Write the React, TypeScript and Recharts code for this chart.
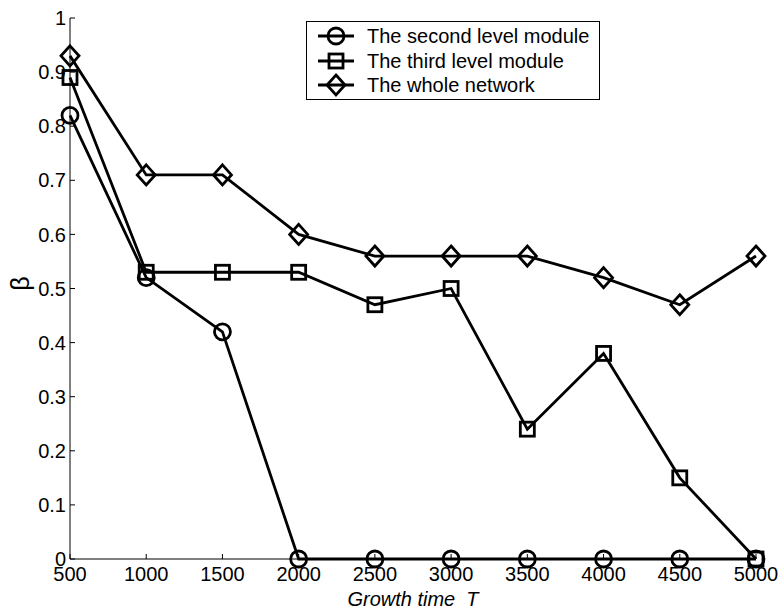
import React from 'react';
import {
  LineChart,
  Line,
  XAxis,
  YAxis,
  Label,
} from 'recharts';

const growthTimes = [500, 1000, 1500, 2000, 2500, 3000, 3500, 4000, 4500, 5000];
const secondLevel = [0.82, 0.52, 0.42, 0, 0, 0, 0, 0, 0, 0];
const thirdLevel = [0.89, 0.53, 0.53, 0.53, 0.47, 0.5, 0.24, 0.38, 0.15, 0];
const wholeNetwork = [0.93, 0.71, 0.71, 0.6, 0.56, 0.56, 0.56, 0.52, 0.47, 0.56];
const yTicks = [0, 0.1, 0.2, 0.3, 0.4, 0.5, 0.6, 0.7, 0.8, 0.9, 1];

const data = growthTimes.map((t, i) => ({
  t,
  second: secondLevel[i],
  third: thirdLevel[i],
  whole: wholeNetwork[i],
}));

const series = [
  { key: 'second', name: 'The second level module', marker: 'circle' },
  { key: 'third', name: 'The third level module', marker: 'square' },
  { key: 'whole', name: 'The whole network', marker: 'diamond' },
];

const FONT = '"Liberation Sans", Arial, sans-serif';
const SW = 2.8;

function Marker({ kind, cx, cy }: { kind: string; cx: number; cy: number }) {
  if (cx == null || cy == null) return null;
  if (kind === 'circle') {
    return <circle cx={cx} cy={cy} r={8} fill="none" stroke="#000" strokeWidth={SW} />;
  }
  if (kind === 'square') {
    return <rect x={cx - 7} y={cy - 7} width={14} height={14} fill="none" stroke="#000" strokeWidth={SW} />;
  }
  return (
    <polygon
      points={`${cx},${cy - 10} ${cx + 9},${cy} ${cx},${cy + 10} ${cx - 9},${cy}`}
      fill="none"
      stroke="#000"
      strokeWidth={SW}
    />
  );
}

function LegendBox() {
  return (
    <div
      style={{
        position: 'absolute',
        left: 306,
        top: 21,
        width: 292,
        border: '1px solid #000',
        background: '#fff',
        padding: '2px 0 1px 0',
        fontFamily: FONT,
        fontSize: 20,
      }}
    >
      {series.map((s) => (
        <div key={s.key} style={{ display: 'flex', alignItems: 'center', height: 24.5 }}>
          <svg width={58} height={24} style={{ overflow: 'visible', flex: 'none' }}>
            <line x1={11} x2={47} y1={12} y2={12} stroke="#000" strokeWidth={SW} />
            <Marker kind={s.marker} cx={29} cy={12} />
          </svg>
          <span style={{ marginLeft: 2, lineHeight: '24px', whiteSpace: 'nowrap' }}>{s.name}</span>
        </div>
      ))}
    </div>
  );
}

export default function App() {
  return (
    <div style={{ position: 'absolute', left: 0, top: 0, width: 781, height: 612, background: '#fff' }}>
      <LineChart
        width={781}
        height={612}
        data={data}
        margin={{ top: 18, right: 25, left: 30, bottom: 23 }}
      >
        <XAxis
          dataKey="t"
          type="number"
          domain={[500, 5000]}
          ticks={growthTimes}
          interval={0}
          height={30}
          stroke="#000"
          tickSize={-5}
          tickMargin={13}
          tick={{ fill: '#000', fontSize: 20, fontFamily: FONT }}
        >
          <Label
            value={'Growth time\u00A0\u00A0T'}
            position="insideBottom"
            offset={-17}
            style={{ fontFamily: FONT, fontSize: 20, fontStyle: 'italic', fill: '#000' }}
          />
        </XAxis>
        <XAxis
          xAxisId="top"
          dataKey="t"
          type="number"
          orientation="top"
          domain={[500, 5000]}
          ticks={growthTimes}
          height={0}
          stroke="#000"
          tickSize={-5}
          tickFormatter={() => ''}
        />
        <YAxis
          type="number"
          domain={[0, 1]}
          ticks={yTicks}
          interval={0}
          width={40}
          stroke="#000"
          tickSize={-5}
          tickMargin={9}
          tickFormatter={(v: number) => String(Math.round(v * 10) / 10)}
          tick={{ fill: '#000', fontSize: 20, fontFamily: FONT }}
        >
          <Label
            content={(props: any) => {
              const vb = props.viewBox || {};
              const x = vb.x - 1;
              const y = vb.y + vb.height / 2 - 5;
              return (
                <text
                  x={x}
                  y={y}
                  transform={`rotate(-90 ${x} ${y})`}
                  textAnchor="middle"
                  fontFamily={FONT}
                  fontSize={25}
                  fill="#000"
                >
                  β
                </text>
              );
            }}
          />
        </YAxis>
        <YAxis
          yAxisId="right"
          orientation="right"
          type="number"
          domain={[0, 1]}
          ticks={yTicks}
          width={0}
          stroke="#000"
          tickSize={-5}
          tickFormatter={() => ''}
        />
        {series.map((s) => (
          <Line
            key={s.key}
            dataKey={s.key}
            name={s.name}
            type="linear"
            stroke="#000"
            strokeWidth={SW}
            isAnimationActive={false}
            dot={(p: any) => <Marker key={`${s.key}-${p.index}`} kind={s.marker} cx={p.cx} cy={p.cy} />}
            activeDot={false}
          />
        ))}
      </LineChart>
      <LegendBox />
    </div>
  );
}
